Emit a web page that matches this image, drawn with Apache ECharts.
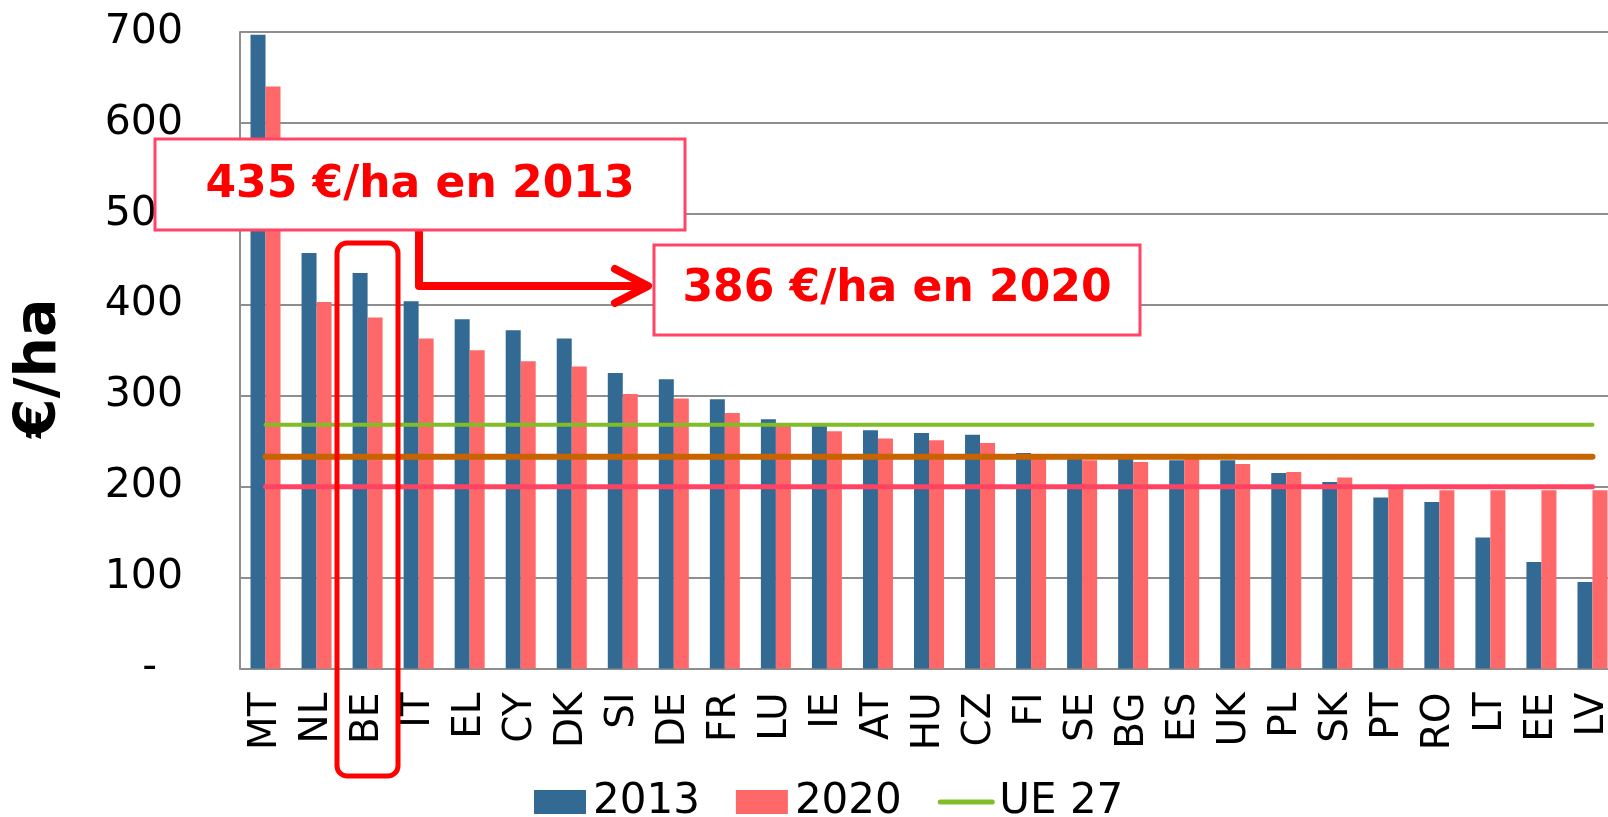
<!DOCTYPE html>
<html>
<head>
<meta charset="utf-8">
<script src="https://cdn.jsdelivr.net/npm/echarts@6/dist/echarts.min.js"></script>
<style>
  html, body { margin: 0; padding: 0; background: #fff; }
  #chart { width: 1608px; height: 817px; }
</style>
</head>
<body>
<div id="chart"></div>
<script>
const categories = ['MT', 'NL', 'BE', 'IT', 'EL', 'CY', 'DK', 'SI', 'DE', 'FR', 'LU', 'IE', 'AT', 'HU',
    'CZ', 'FI', 'SE', 'BG', 'ES', 'UK', 'PL', 'SK', 'PT', 'RO', 'LT', 'EE', 'LV'];
const values2013 = [697, 457, 435, 404, 384, 372, 363, 325, 318, 296, 274, 267, 262, 259,
    257, 237, 234, 233, 229, 229, 215, 205, 188, 183, 144, 117, 95];
const values2020 = [640, 403, 386, 363, 350, 338, 332, 302, 297, 281, 267, 261, 253, 251,
    248, 234, 229, 227, 231, 225, 216, 210, 199, 196, 196, 196, 196];
const yTicks = [0, 100, 200, 300, 400, 500, 600, 700];

// niveaux horizontaux (moyennes)
const ue27Level = 268;
const orangeLevel = 233;
const pinkLevel = 200;

const FONT = 'DejaVu Sans';
const GREEN = '#80bd26';

const chart = echarts.init(document.getElementById('chart'));

function flatLine(name, level, color, width) {
    return {
        name: name,
        type: 'line',
        data: categories.map(() => level),
        symbol: 'none',
        z: 3,
        lineStyle: { color: color, width: width, cap: 'round' },
        itemStyle: { color: color },
        emphasis: { disabled: true }
    };
}

const option = {
    animation: false,
    grid: { left: 240, right: -10, top: 32, bottom: 148.5, outerBoundsMode: 'none', containLabel: false },
    legend: {
        data: [
            { name: '2013', icon: 'rect' },
            { name: '2020', icon: 'rect' },
            { name: 'UE 27', itemStyle: { opacity: 0 }, lineStyle: { width: 5, color: GREEN, cap: 'round' } }
        ],
        left: 534,
        top: 781,
        padding: 0,
        itemWidth: 52,
        itemHeight: 24,
        itemGap: 36,
        textStyle: { fontFamily: FONT, fontSize: 42, color: '#000', lineHeight: 42, padding: [0, 0, 0, 2] }
    },
    xAxis: {
        type: 'category',
        data: categories,
        axisLine: { lineStyle: { color: '#8e8e8e', width: 2 } },
        axisTick: { show: false },
        axisLabel: { interval: 0, rotate: 90, fontFamily: FONT, fontSize: 39, color: '#000', margin: 24 }
    },
    yAxis: {
        type: 'value',
        min: yTicks[0],
        max: yTicks[yTicks.length - 1],
        interval: 100,
        name: '€/ha',
        nameLocation: 'middle',
        nameRotate: 90,
        nameGap: 171,
        nameTextStyle: { fontFamily: FONT, fontSize: 57, fontWeight: 'bold', color: '#000', padding: [0, 36, 0, 0] },
        axisLine: { show: true, lineStyle: { color: '#8e8e8e', width: 2 } },
        axisTick: { show: false },
        splitLine: { lineStyle: { color: '#8e8e8e', width: 2 } },
        axisLabel: {
            fontFamily: FONT, fontSize: 41, color: '#000', margin: 57,
            formatter: v => v === 0 ? '-  ' : String(v)
        }
    },
    series: [
        {
            name: '2013', type: 'bar', data: values2013,
            barWidth: 15, barGap: '0%',
            itemStyle: { color: '#336a94' }
        },
        {
            name: '2020', type: 'bar', data: values2020,
            barWidth: 15,
            itemStyle: { color: '#ff6868' }
        },
        flatLine('UE 27', ue27Level, GREEN, 4),
        flatLine('Moyenne A', orangeLevel, '#c86400', 6),
        flatLine('Moyenne B', pinkLevel, '#ff4463', 5)
    ],
    graphic: [
        {
            type: 'rect', z: 100,
            shape: { x: 337, y: 243, width: 61, height: 533, r: 10 },
            style: { fill: 'none', stroke: '#ff0000', lineWidth: 5 }
        },
        {
            type: 'polyline', z: 100,
            shape: { points: [[419, 230], [419, 286], [648, 286]] },
            style: { fill: 'none', stroke: '#ff0000', lineWidth: 8, lineJoin: 'round' }
        },
        {
            type: 'polyline', z: 100,
            shape: { points: [[615, 269], [648, 286], [615, 303]] },
            style: { fill: 'none', stroke: '#ff0000', lineWidth: 8, lineCap: 'round', lineJoin: 'round' }
        },
        {
            type: 'rect', z: 101,
            shape: { x: 155, y: 139, width: 530, height: 91 },
            style: { fill: '#fff', stroke: '#ff4466', lineWidth: 3 }
        },
        {
            type: 'text', z: 102, x: 420, y: 186,
            style: {
                text: '435 €/ha en 2013', fill: '#ff0000',
                font: 'bold 44px "DejaVu Sans"', align: 'center', verticalAlign: 'middle'
            }
        },
        {
            type: 'rect', z: 101,
            shape: { x: 654, y: 245, width: 486, height: 90 },
            style: { fill: '#fff', stroke: '#ff4466', lineWidth: 3 }
        },
        {
            type: 'text', z: 102, x: 897, y: 290,
            style: {
                text: '386 €/ha en 2020', fill: '#ff0000',
                font: 'bold 44px "DejaVu Sans"', align: 'center', verticalAlign: 'middle'
            }
        }
    ]
};

chart.setOption(option);
</script>
</body>
</html>
